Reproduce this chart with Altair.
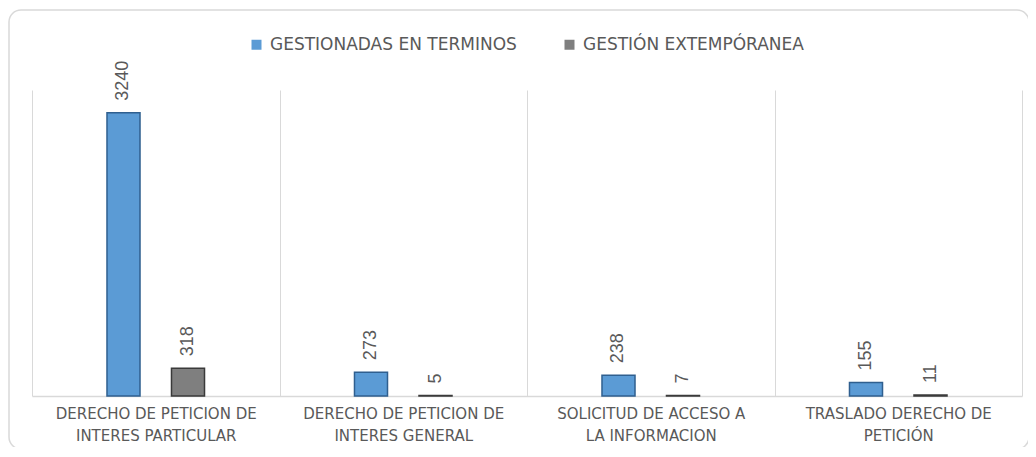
import altair as alt
import pandas as pd

categories = [
    "DERECHO DE PETICION DE\nINTERES PARTICULAR",
    "DERECHO DE PETICION DE\nINTERES GENERAL",
    "SOLICITUD DE ACCESO A\nLA INFORMACION",
    "TRASLADO DERECHO DE\nPETICIÓN",
]
series = ["GESTIONADAS EN TERMINOS", "GESTIÓN EXTEMPÓRANEA"]
en_terminos = [3240, 273, 238, 155]
extemporanea = [318, 5, 7, 11]
colors = ["#5B9BD5", "#7F7F7F"]
strokes = ["#2F5F8F", "#3A3A3A"]

rows = []
for c, a, b in zip(categories, en_terminos, extemporanea):
    rows.append({"cat": c, "serie": series[0], "valor": a})
    rows.append({"cat": c, "serie": series[1], "valor": b})
df = pd.DataFrame(rows)

W, H = 990, 306
TXT = "#595959"

x_enc = alt.X(
    "cat:N", sort=categories, title=None,
    scale=alt.Scale(paddingInner=0, paddingOuter=0),
    axis=alt.Axis(
        labelAngle=0, labelExpr="split(datum.label, '\\n')",
        labelFont="DejaVu Sans", labelFontSize=15, labelColor=TXT,
        labelLimit=0, labelLineHeight=22, labelPadding=10,
        labelOverlap=False, labelFlush=False, ticks=False,
        tickBand="extent", grid=True, gridColor="#D9D9D9", gridWidth=1,
        domainColor="#D9D9D9", domainWidth=1.5,
    ),
)
y_enc = alt.Y("valor:Q", scale=alt.Scale(domain=[0, 3500], nice=False), axis=None)
# empty slots on each side keep the pair of bars centred in its category
xo_enc = alt.XOffset("serie:N",
                     scale=alt.Scale(domain=["_l"] + series + ["_r"],
                                     paddingInner=0.488, paddingOuter=0.1625))

bars = alt.Chart(df).mark_bar(strokeWidth=1.5).encode(
    x=x_enc, y=y_enc, xOffset=xo_enc,
    color=alt.Color(
        "serie:N", sort=series,
        scale=alt.Scale(domain=series, range=colors),
        legend=alt.Legend(
            title=None, orient="none", legendX=216, legendY=-54,
            direction="horizontal", symbolType="square", symbolSize=100,
            labelFont="DejaVu Sans", labelFontSize=17, labelColor=TXT,
            labelLimit=0, columnPadding=44, labelOffset=5, symbolStrokeWidth=0,
        ),
    ),
    stroke=alt.Stroke("serie:N", scale=alt.Scale(domain=series, range=strokes), legend=None),
)

labels = alt.Chart(df).mark_text(
    angle=270, align="left", baseline="middle", dx=12,
    font="Liberation Sans Narrow, Liberation Sans", fontSize=18, color=TXT,
).encode(x=x_enc, y=y_enc, xOffset=xo_enc, text=alt.Text("valor:Q"))

border = alt.Chart(alt.Data(values=[{"k": 1}])).mark_rect(
    fillOpacity=0, stroke="#D9D9D9", strokeWidth=1.5, cornerRadius=12
).encode(x=alt.value(-23), x2=alt.value(997), y=alt.value(-80), y2=alt.value(359))

chart = alt.layer(border, bars, labels).properties(
    width=W, height=H,
    padding={"left": 24, "top": 82, "right": 6, "bottom": 51},
    autosize=alt.AutoSizeParams(type="none"),
).configure_view(stroke=None)

chart.save("out.html", embed_options={"renderer": "svg", "actions": False})
